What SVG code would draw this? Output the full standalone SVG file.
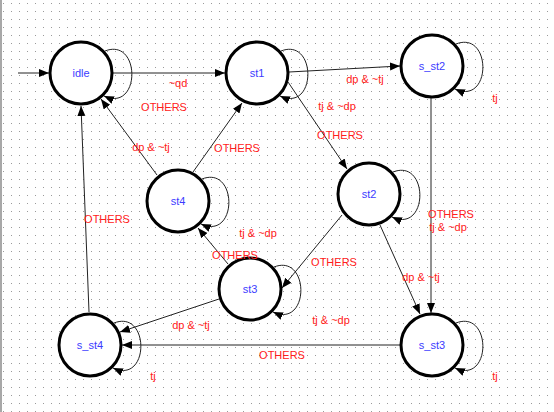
<svg xmlns="http://www.w3.org/2000/svg" width="554" height="412" viewBox="0 0 554 412">
<style>
.node circle{fill:#fff;stroke:#000;stroke-width:3}
.node text{font-family:"Liberation Sans",Arial,sans-serif;font-size:11px;fill:#3c3cff;text-anchor:middle}
.edge{fill:none;stroke:#222;stroke-width:1;marker-end:url(#arr)}
.lbl{font-family:"Liberation Sans",Arial,sans-serif;font-size:11px;fill:#ff2020;text-anchor:middle}
</style>
<defs>
<pattern id="grid" width="8" height="8" patternUnits="userSpaceOnUse"><rect x="3" y="3" width="1" height="1" fill="#9a9a9a"/></pattern>
<marker id="arr" markerWidth="11" markerHeight="9" refX="10" refY="4" orient="auto" markerUnits="userSpaceOnUse"><path d="M0,0 L10,4 L0,8 z" fill="#000"/></marker>
<path id="loop" d="M24,-22 C60,-36 60,40 23,23"/>
</defs>
<rect width="554" height="412" fill="#fff"/>
<rect width="554" height="412" fill="url(#grid)"/>
<rect x="0" y="0" width="2" height="412" fill="#a8a8a8"/>
<g id="connectors">
<path class="edge" d="M18,73 L49,73"/>
<path class="edge" d="M113,73 L225,73"/>
<path class="edge" d="M289,72 L400,66"/>
<path class="edge" d="M288,82 L347,169"/>
<path class="edge" d="M431,98 L431,313"/>
<path class="edge" d="M380,225 L420,314"/>
<path class="edge" d="M342,215 L282,288"/>
<path class="edge" d="M219,299 L120,332"/>
<path class="edge" d="M228,264 L198,228"/>
<path class="edge" d="M157,175 L101,99"/>
<path class="edge" d="M193,172 L242,103"/>
<path class="edge" d="M89,312 L81,106"/>
<path class="edge" d="M400,345 L122,345"/>
<use href="#loop" class="edge" transform="translate(81,73)"/>
<use href="#loop" class="edge" transform="translate(257,73)"/>
<use href="#loop" class="edge" transform="translate(432,66)"/>
<use href="#loop" class="edge" transform="translate(369,194)"/>
<use href="#loop" class="edge" transform="translate(178,201)"/>
<use href="#loop" class="edge" transform="translate(250,289)"/>
<use href="#loop" class="edge" transform="translate(90,345)"/>
<use href="#loop" class="edge" transform="translate(432,345)"/>
</g>
<g id="idle" class="node"><circle cx="81" cy="73" r="31"/><text x="81" y="77">idle</text></g>
<g id="st1" class="node"><circle cx="257" cy="73" r="31"/><text x="257" y="77">st1</text></g>
<g id="s_st2" class="node"><circle cx="432" cy="66" r="31"/><text x="432" y="70">s_st2</text></g>
<g id="st2" class="node"><circle cx="369" cy="194" r="31"/><text x="369" y="198">st2</text></g>
<g id="st4" class="node"><circle cx="178" cy="201" r="31"/><text x="178" y="205">st4</text></g>
<g id="st3" class="node"><circle cx="250" cy="289" r="31"/><text x="250" y="293">st3</text></g>
<g id="s_st4" class="node"><circle cx="90" cy="345" r="31"/><text x="90" y="349">s_st4</text></g>
<g id="s_st3" class="node"><circle cx="432" cy="345" r="31"/><text x="432" y="349">s_st3</text></g>
<g id="labels">
<text class="lbl" x="178" y="87">~qd</text>
<text class="lbl" x="164" y="111">OTHERS</text>
<text class="lbl" x="365" y="83">dp &amp; ~tj</text>
<text class="lbl" x="337" y="110">tj &amp; ~dp</text>
<text class="lbl" x="340" y="139">OTHERS</text>
<text class="lbl" x="495" y="102">tj</text>
<text class="lbl" x="151" y="151">dp &amp; ~tj</text>
<text class="lbl" x="237" y="152">OTHERS</text>
<text class="lbl" x="107" y="223">OTHERS</text>
<text class="lbl" x="258" y="237">tj &amp; ~dp</text>
<text class="lbl" x="235" y="259">OTHERS</text>
<text class="lbl" x="451" y="218">OTHERS</text>
<text class="lbl" x="448" y="231">tj &amp; ~dp</text>
<text class="lbl" x="334" y="266">OTHERS</text>
<text class="lbl" x="421" y="281">dp &amp; ~tj</text>
<text class="lbl" x="191" y="329">dp &amp; ~tj</text>
<text class="lbl" x="153" y="380">tj</text>
<text class="lbl" x="331" y="324">tj &amp; ~dp</text>
<text class="lbl" x="282" y="359">OTHERS</text>
<text class="lbl" x="495" y="380">tj</text>
</g>
</svg>
